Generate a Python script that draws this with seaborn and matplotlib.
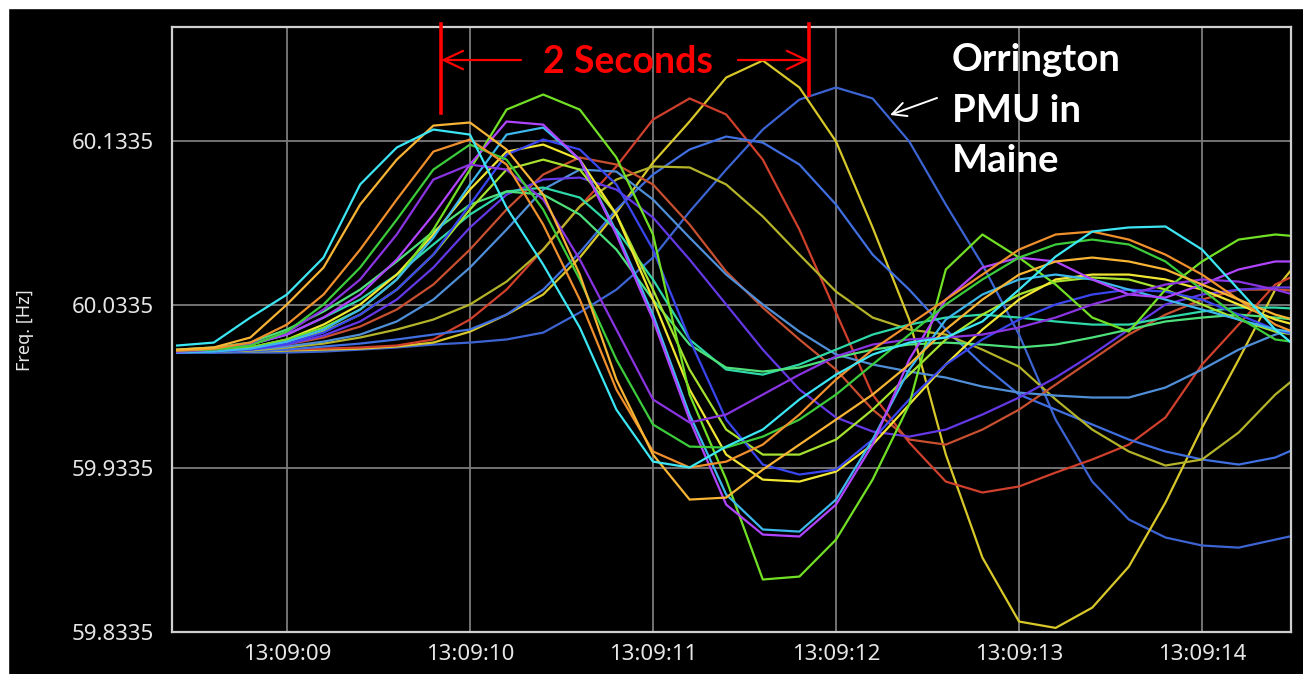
import matplotlib
matplotlib.use("Agg")
import matplotlib.pyplot as plt
from matplotlib.patches import Rectangle
import numpy as np
import pandas as pd
import seaborn as sns

# Sample times, seconds after 13:09:09
TIME_S = [-0.6, -0.4, -0.2, 0.0, 0.2, 0.4, 0.6, 0.8, 1.0, 1.2, 1.4, 1.6,
          1.8, 2.0, 2.2, 2.4, 2.6, 2.8, 3.0, 3.2, 3.4, 3.6, 3.8, 4.0,
          4.2, 4.4, 4.6, 4.8, 5.0, 5.2, 5.4, 5.6]

# Frequency of each PMU, deviation from 60 Hz in mHz
ORRINGTON = [4.4, 4.4, 4.4, 4.4, 5.0, 6.2, 7.5, 9.3, 10.5, 12.4, 16.6, 28.9, 42.9, 62.5, 90.6, 116.3,
             140.8, 159.1, 166.5, 159.8, 133.5, 94.9, 58.2, 15.4, -36.6, -74.5, -97.7, -108.7, -113.6, -114.9, -110.0, -105.1]
PMU_YELLOW_WIDE = [5.0, 5.0, 5.0, 5.6, 6.2, 6.8, 8.1, 10.5, 17.2, 27.6, 39.9, 62.5, 90.0, 120.6, 145.7, 172.6,
                   183.0, 166.5, 133.5, 80.9, 24.6, -58.0, -121.0, -160.1, -164.0, -151.6, -126.5, -87.3, -41.5, 0.1, 42.9, 70.5]
PMU_RED_WIDE = [5.0, 5.0, 5.6, 6.2, 6.8, 7.5, 8.7, 12.4, 24.6, 42.9, 67.4, 93.7, 118.2, 146.9, 159.8, 150.0,
                122.4, 79.6, 28.9, -21.3, -50.6, -74.5, -81.2, -77.5, -69.0, -61.0, -51.9, -35.3, -2.9, 21.5, 46.0, 56.4]
PMU_BLUE_LATE = [4.4, 4.4, 5.0, 6.2, 8.1, 9.9, 12.4, 15.4, 18.5, 27.6, 42.9, 65.6, 91.9, 113.3, 128.6, 136.5,
                 132.8, 119.4, 94.9, 64.3, 42.9, 18.5, -2.9, -21.3, -30.5, -39.6, -48.8, -56.1, -61.0, -64.1, -59.8, -50.0]
PMU_OLIVE = [5.0, 5.0, 5.6, 7.5, 9.9, 13.6, 18.5, 24.6, 33.8, 47.8, 67.4, 93.7, 110.2, 118.2, 117.6, 107.2,
             87.6, 64.3, 41.7, 25.8, 18.5, 15.4, 6.2, -4.2, -24.3, -42.7, -56.1, -64.7, -61.0, -44.5, -21.3, -2.9]
PMU_BRICK = [5.0, 5.6, 6.8, 9.3, 13.6, 20.3, 30.7, 46.0, 67.4, 91.9, 113.3, 123.7, 119.4, 107.2, 82.7, 53.9,
             31.9, 12.4, -6.0, -30.5, -48.8, -51.9, -42.7, -30.5, -15.2, 0.1, 15.4, 27.6, 36.8, 42.9, 42.9, 41.7]
PMU_SKY = [4.4, 5.0, 6.2, 8.1, 11.1, 15.4, 23.4, 36.8, 56.4, 79.6, 104.1, 116.3, 115.1, 98.0, 74.7, 52.1,
           33.8, 17.2, 3.2, -2.9, -7.2, -10.9, -16.4, -20.1, -21.9, -23.1, -23.1, -17.0, -6.0, 6.2, 15.4, 21.5]
PMU_VIOLET = [4.4, 5.0, 6.2, 9.3, 14.8, 23.4, 36.8, 56.4, 80.9, 101.0, 110.2, 111.4, 104.1, 87.0, 61.3, 33.8,
              6.2, -18.2, -35.3, -43.9, -47.0, -42.7, -33.5, -23.1, -10.9, 3.2, 18.5, 33.8, 39.9, 42.9, 44.2, 44.2]
PMU_TEAL = [5.0, 6.2, 9.3, 15.4, 25.8, 36.8, 52.1, 70.5, 88.8, 102.9, 105.3, 99.2, 79.6, 49.1, 12.4, -6.0,
            -9.1, -2.9, 6.2, 15.4, 21.5, 25.8, 27.6, 25.8, 23.4, 21.5, 21.5, 25.8, 29.5, 31.9, 31.9, 30.7]
PMU_MINT = [6.2, 7.5, 10.5, 18.5, 29.5, 42.9, 60.1, 78.4, 94.9, 102.9, 101.0, 88.8, 67.4, 36.8, 9.3, -4.8,
            -7.2, -4.8, 1.3, 6.2, 9.3, 10.5, 9.3, 7.5, 9.3, 13.6, 18.5, 23.4, 25.8, 27.6, 25.8, 23.4]
PMU_LIME = [5.0, 5.6, 6.8, 10.5, 17.2, 27.6, 42.9, 64.3, 91.9, 116.3, 122.4, 116.3, 88.8, 42.9, -6.0, -42.7,
            -58.0, -58.0, -48.8, -30.5, -9.1, 12.4, 27.6, 39.9, 47.8, 50.3, 49.1, 42.9, 33.8, 24.6, 17.2, 13.6]
PMU_YELLOW = [5.0, 5.6, 7.5, 12.4, 21.5, 33.8, 52.1, 76.6, 104.1, 127.3, 131.6, 122.4, 88.8, 36.8, -18.2, -58.0,
              -73.3, -74.5, -68.4, -51.9, -27.4, -2.9, 18.5, 36.8, 49.1, 52.1, 52.1, 49.1, 42.9, 33.8, 24.6, 18.5]
PMU_BLUE = [4.4, 5.0, 6.2, 9.9, 16.6, 27.6, 42.9, 64.3, 94.9, 125.5, 134.7, 128.6, 107.2, 67.4, 12.4, -36.6,
            -64.1, -70.2, -67.2, -48.8, -24.3, -2.9, 12.4, 24.6, 33.8, 39.9, 42.9, 41.7, 36.8, 27.6, 18.5, 12.4]
PMU_GREEN_DEEP = [5.0, 6.2, 7.5, 12.4, 19.7, 30.7, 49.1, 79.6, 116.3, 153.0, 162.2, 153.0, 123.7, 76.6, -21.3, -73.3,
                  -134.4, -132.6, -110.0, -73.3, -27.4, 55.2, 76.6, 62.5, 46.0, 25.8, 17.2, 42.9, 60.1, 73.5, 76.6, 74.7]
PMU_AZURE = [4.4, 5.0, 6.8, 11.1, 18.5, 30.7, 49.1, 74.7, 107.2, 137.7, 142.0, 122.4, 78.4, 27.6, -33.5, -82.4,
             -103.8, -105.1, -85.5, -48.8, -6.0, 24.6, 39.9, 49.1, 52.1, 49.1, 42.9, 36.8, 30.7, 24.6, 18.5, 15.4]
PMU_MAGENTA = [5.0, 6.2, 9.3, 15.4, 25.8, 39.9, 61.3, 88.8, 119.4, 145.7, 143.8, 122.4, 76.6, 24.6, -36.6, -88.6,
               -106.9, -108.1, -88.6, -51.9, 0.1, 36.8, 56.4, 62.5, 60.1, 49.1, 39.9, 38.0, 46.0, 55.2, 60.1, 60.1]
PMU_PURPLE = [5.0, 6.2, 9.3, 16.6, 30.7, 49.1, 76.6, 110.2, 119.4, 116.3, 98.0, 61.3, 18.5, -24.3, -38.4, -33.5,
              -21.3, -9.1, 2.0, 9.3, 12.4, 13.6, 15.4, 19.7, 25.8, 33.8, 39.9, 46.0, 49.1, 47.8, 42.9, 36.8]
PMU_GREEN = [5.6, 6.2, 8.7, 17.2, 33.8, 56.4, 85.7, 116.3, 131.6, 122.4, 91.9, 49.1, 0.1, -39.6, -53.1, -53.7,
             -47.0, -36.6, -21.3, -2.9, 15.4, 33.8, 49.1, 62.5, 70.5, 73.5, 70.5, 60.1, 42.9, 25.8, 12.4, 9.3]
PMU_AMBER = [5.6, 6.8, 10.5, 21.5, 39.9, 67.4, 98.0, 127.3, 134.7, 119.4, 82.7, 36.8, -18.2, -56.1, -65.9, -62.3,
             -51.9, -33.5, -12.1, 6.2, 21.5, 36.8, 52.1, 67.4, 76.6, 78.4, 73.5, 64.3, 52.1, 36.8, 21.5, 12.4]
PMU_ORANGE = [6.2, 7.5, 13.6, 33.8, 56.4, 94.9, 122.4, 143.2, 145.1, 128.6, 101.0, 52.1, -12.1, -58.0, -85.5, -84.3,
              -67.2, -51.9, -36.6, -21.3, -2.9, 18.5, 36.8, 52.1, 60.1, 62.5, 60.1, 55.2, 46.0, 36.8, 27.6, 21.5]
PMU_CYAN = [8.7, 10.5, 25.8, 39.9, 62.5, 107.2, 129.8, 140.8, 137.7, 93.1, 58.2, 19.7, -30.5, -62.3, -65.9, -53.1,
            -42.7, -24.3, -9.1, 3.2, 10.5, 13.6, 23.4, 42.9, 63.1, 78.4, 80.9, 81.5, 67.4, 42.9, 18.5, 0.1]

TRACES = [
    ("Orrington", ORRINGTON), ("Yellow wide", PMU_YELLOW_WIDE), ("Red wide", PMU_RED_WIDE),
    ("Blue late", PMU_BLUE_LATE), ("Olive", PMU_OLIVE), ("Brick", PMU_BRICK), ("Sky", PMU_SKY),
    ("Violet", PMU_VIOLET), ("Teal", PMU_TEAL), ("Mint", PMU_MINT), ("Lime", PMU_LIME),
    ("Yellow", PMU_YELLOW), ("Blue", PMU_BLUE), ("Green deep", PMU_GREEN_DEEP), ("Azure", PMU_AZURE),
    ("Magenta", PMU_MAGENTA), ("Purple", PMU_PURPLE), ("Green", PMU_GREEN), ("Amber", PMU_AMBER),
    ("Orange", PMU_ORANGE), ("Cyan", PMU_CYAN),
]

TRACE_COLORS = {
    "Orrington": "#3c64d2", "Yellow wide": "#d8c82a", "Red wide": "#d0402c", "Blue late": "#3f6fe0",
    "Olive": "#b4b42a", "Brick": "#c85030", "Sky": "#4f8fd8", "Violet": "#6438e6", "Teal": "#2ed8a8",
    "Mint": "#4ee07a", "Lime": "#a6e22e", "Yellow": "#f2e634", "Blue": "#3a46f0",
    "Green deep": "#72e024", "Azure": "#3cb8ec", "Magenta": "#b044ff", "Purple": "#8a34e2",
    "Green": "#3ccc3c", "Amber": "#f0902c", "Orange": "#f8b434", "Cyan": "#3ce6f4",
}

TICK_SECONDS = [0, 1, 2, 3, 4, 5]
TICK_LABELS = ["13:09:09", "13:09:10", "13:09:11", "13:09:12", "13:09:13", "13:09:14"]
FREQ_TICKS = [59.8335, 59.9335, 60.0335, 60.1335]

rows = []
for name, values in TRACES:
    for t, v in zip(TIME_S, values):
        rows.append({"time": t, "freq": 60.0 + v / 1000.0, "pmu": name})
df = pd.DataFrame(rows)

fig = plt.figure(figsize=(13.03, 6.74), dpi=100, facecolor="black")
ax = fig.add_axes([172 / 1303, 42 / 674, 1119 / 1303, 605 / 674])
ax.set_facecolor("black")

sns.lineplot(data=df, x="time", y="freq", hue="pmu", hue_order=[n for n, _ in TRACES],
             palette=TRACE_COLORS, estimator=None, sort=False, legend=False,
             linewidth=1.6, ax=ax)

ax.set_xlim(-0.628, 5.486)
ax.set_ylim(59.8335, 60.2035)
ax.set_xticks(TICK_SECONDS)
ax.set_xticklabels(TICK_LABELS)
ax.set_yticks(FREQ_TICKS)
ax.set_yticklabels([f"{v:.4f}" for v in FREQ_TICKS])
ax.set_xlabel("")
ax.set_ylabel("")
ax.grid(True, color="#7c7c7c", linewidth=1.3)
ax.set_axisbelow(True)
for sp in ax.spines.values():
    sp.set_color("#cfcfcf")
    sp.set_linewidth(1.6)
ax.tick_params(axis="both", length=0, colors="#e6e6e6", labelsize=16)
ax.tick_params(axis="y", pad=13)
ax.tick_params(axis="x", pad=9)
for lbl in ax.get_xticklabels() + ax.get_yticklabels():
    lbl.set_fontfamily("Noto Sans")

fig.text(25 / 1303, 1 - 330 / 674, "Freq. [Hz]", rotation=90, ha="center", va="center",
         color="#e6e6e6", fontsize=13, family="Noto Sans")

# thin white margin along the top and left edges
fig.patches.append(Rectangle((0, 1 - 8 / 674), 1, 8 / 674, transform=fig.transFigure,
                             color="white", zorder=0))
fig.patches.append(Rectangle((0, 0), 8 / 1303, 1, transform=fig.transFigure,
                             color="white", zorder=0))

# two-second span marker
red = "#ff0000"
t_left, t_right = 0.842, 2.852
ax.plot([t_left, t_left], [60.1509, 60.2054], color=red, lw=2.6, clip_on=False, zorder=10)
ax.plot([t_right, t_right], [60.1619, 60.2054], color=red, lw=2.6, clip_on=False, zorder=10)
arrow_red = dict(arrowstyle="->,head_length=0.7,head_width=0.33", color=red, lw=1.6,
                 shrinkA=0, shrinkB=0, mutation_scale=20)
ax.annotate("", xy=(t_left, 60.1833), xytext=(1.279, 60.1833), arrowprops=arrow_red,
            annotation_clip=False, zorder=10)
ax.annotate("", xy=(t_right, 60.1833), xytext=(2.464, 60.1833), arrowprops=arrow_red,
            annotation_clip=False, zorder=10)
ax.text(1.863, 60.1754, "2 Seconds", color=red, fontsize=27, fontweight="bold",
        family="Lato", ha="center", va="baseline", zorder=10)

# Orrington callout
for line, y in zip(["Orrington", "PMU in", "Maine"], [60.1766, 60.1454, 60.1148]):
    ax.text(3.634, y, line, color="white", fontsize=27.5, fontweight="bold", family="Lato",
            ha="left", va="baseline", zorder=10)
ax.annotate("", xy=(3.295, 60.1497), xytext=(3.552, 60.1601),
            arrowprops=dict(arrowstyle="->,head_length=0.5,head_width=0.25", color="white",
                            lw=1.4, shrinkA=0, shrinkB=0, mutation_scale=20),
            annotation_clip=False, zorder=10)

fig.savefig("out.png", dpi=100, facecolor="black")
